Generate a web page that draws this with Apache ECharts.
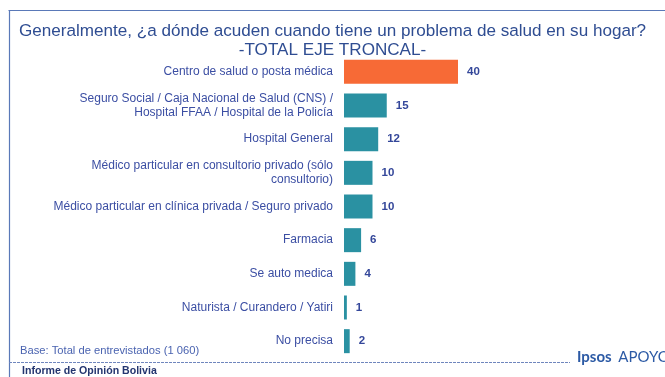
<!DOCTYPE html>
<html>
<head>
<meta charset="utf-8">
<script src="https://cdn.jsdelivr.net/npm/echarts@6/dist/echarts.min.js"></script>
<style>
  html, body { margin: 0; padding: 0; background: #ffffff; }
  #chart { width: 665px; height: 377px; }
</style>
</head>
<body>
<div id="chart"></div>
<script>
// Places where households go when someone has a health problem (%)
const categories = [
  'Centro de salud o posta médica',
  'Seguro Social / Caja Nacional de Salud (CNS) /\nHospital FFAA / Hospital de la Policía',
  'Hospital General',
  'Médico particular en consultorio privado (sólo\nconsultorio)',
  'Médico particular en clínica privada / Seguro privado',
  'Farmacia',
  'Se auto medica',
  'Naturista / Curandero / Yatiri',
  'No precisa'
];
const values = [40, 15, 12, 10, 10, 6, 4, 1, 2];
const highlightIndex = 0;

const titleText = 'Generalmente, ¿a dónde acuden cuando tiene un problema de salud en su hogar?';
const subtitleText = '-TOTAL EJE TRONCAL-';
const baseText = 'Base: Total de entrevistados (1 060)';
const footerText = 'Informe de Opinión Bolivia';

const chart = echarts.init(document.getElementById('chart'), null, { renderer: 'canvas' });

const frameColor = '#5a79b8';
const labelColor = '#3b4ea3';

chart.setOption({
  backgroundColor: '#ffffff',
  animation: false,
  title: {
    text: titleText + '\n' + subtitleText,
    left: 'center',
    top: 17,
    textStyle: {
      fontFamily: 'Liberation Sans, Arial, sans-serif',
      fontSize: 17.1,
      fontWeight: 'normal',
      color: '#2f4d92',
      lineHeight: 19
    }
  },
  grid: { left: 344, right: 36, top: 55, bottom: 19, containLabel: false },
  xAxis: {
    type: 'value',
    min: 0,
    max: 100,
    show: false
  },
  yAxis: {
    type: 'category',
    inverse: true,
    data: categories,
    axisLine: { show: false },
    axisTick: { show: false },
    splitLine: { show: false },
    axisLabel: {
      margin: 11,
      align: 'right',
      fontFamily: 'Liberation Sans, Arial, sans-serif',
      fontSize: 12,
      lineHeight: 14,
      color: labelColor
    }
  },
  series: [{
    type: 'bar',
    data: values.map((v, i) => ({
      value: v,
      itemStyle: { color: i === highlightIndex ? '#f76a36' : '#2a91a2' }
    })),
    barWidth: 24,
    label: {
      show: true,
      position: 'right',
      distance: 9,
      fontFamily: 'Liberation Sans, Arial, sans-serif',
      fontSize: 11.5,
      fontWeight: 'bold',
      color: '#34479a'
    }
  }],
  graphic: [
    // outer frame: top and left edges
    { type: 'line', shape: { x1: 8.5, y1: 10.5, x2: 665, y2: 10.5 }, style: { stroke: frameColor, lineWidth: 1.2 } },
    { type: 'line', shape: { x1: 9.5, y1: 10.5, x2: 9.5, y2: 377 }, style: { stroke: frameColor, lineWidth: 1.2 } },
    // footer rule
    { type: 'line', shape: { x1: 9, y1: 362.5, x2: 570, y2: 362.5 }, style: { stroke: '#6f86bd', lineWidth: 1, lineDash: [3, 1] } },
    {
      type: 'text', left: 20, top: 345,
      style: { text: baseText, fontFamily: 'Liberation Sans, Arial, sans-serif', fontSize: 11.2, fill: '#4a63b0' }
    },
    {
      type: 'text', left: 22, top: 366,
      style: { text: footerText, fontFamily: 'Liberation Sans, Arial, sans-serif', fontSize: 10.6, fontWeight: 'bold', fill: '#23356f' }
    },
    {
      type: 'text', left: 577, top: 350,
      style: {
        text: '{b|Ipsos}  {n|APOYO}',
        rich: {
          b: { fontFamily: 'Lato, Open Sans, sans-serif', fontSize: 15, fontWeight: 'bold', fill: '#2c5aa5' },
          n: { fontFamily: 'Lato, Open Sans, sans-serif', fontSize: 15, fill: '#2c5aa5' }
        }
      }
    }
  ]
});
</script>
</body>
</html>
